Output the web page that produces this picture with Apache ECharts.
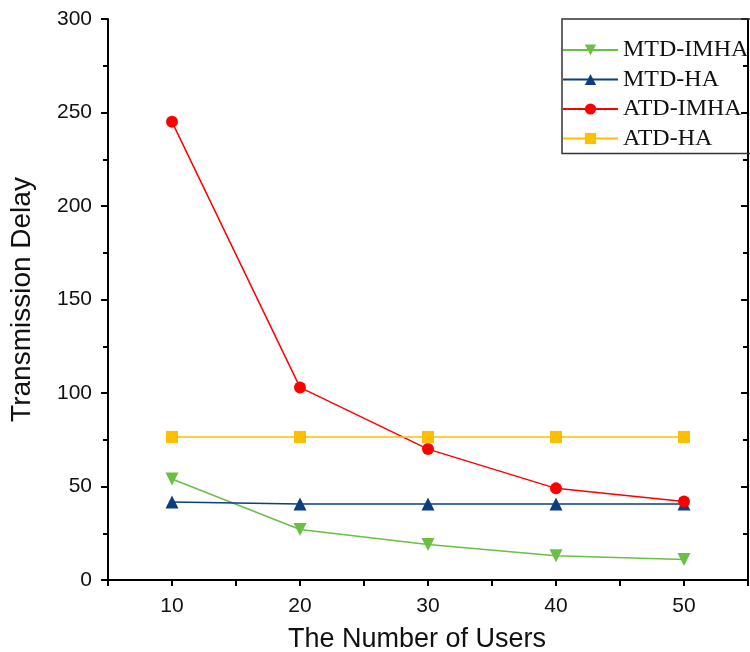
<!DOCTYPE html>
<html>
<head>
<meta charset="utf-8">
<script src="https://cdn.jsdelivr.net/npm/echarts@6/dist/echarts.min.js"></script>
<style>
  html, body { margin: 0; padding: 0; background: #fff; }
  #chart { width: 750px; height: 652px; }
</style>
</head>
<body>
<div id="chart"></div>
<script>
    var users = [10, 20, 30, 40, 50];
    var mtdImha = [54, 27, 19, 13, 11];
    var mtdHa = [41.7, 40.6, 40.6, 40.6, 40.6];
    var atdImha = [245, 103, 70, 49, 42];
    var atdHa = [76.5, 76.5, 76.5, 76.5, 76.5];

    var pairs = function (ys) {
        var res = [];
        for (var i = 0; i < users.length; i++) {
            res.push([users[i], ys[i]]);
        }
        return res;
    };

    var makeSeries = function (name, ys, color, symbol, size, rotate) {
        return {
            name: name,
            type: 'line',
            data: pairs(ys),
            symbol: symbol,
            symbolSize: size,
            symbolRotate: rotate || 0,
            lineStyle: { color: color, width: 1.5 },
            itemStyle: { color: color },
            animation: false
        };
    };

    var axisLine = { show: true, lineStyle: { color: '#000', width: 2 } };
    var tickLabel = { fontFamily: 'Liberation Sans', fontSize: 21, color: '#111' };

    var option = {
        backgroundColor: '#fff',
        grid: { left: 108, right: 2, top: 19, bottom: 72, outerBoundsMode: 'none', containLabel: false },
        legend: {
            left: 562,
            top: 19,
            orient: 'vertical',
            itemWidth: 55,
            itemHeight: 14,
            itemGap: 5.5,
            padding: [19, 20, 3, 0],
            borderColor: '#333',
            borderWidth: 1.5,
            textStyle: { fontFamily: 'Liberation Serif', fontSize: 24, color: '#111' },
            data: ['MTD-IMHA', 'MTD-HA', 'ATD-IMHA', 'ATD-HA']
        },
        xAxis: [{
            type: 'value',
            min: 5,
            max: 55,
            interval: 5,
            name: 'The Number of Users',
            nameLocation: 'middle',
            nameGap: 46,
            nameTextStyle: { fontFamily: 'Liberation Sans', fontSize: 27, color: '#111', padding: [0, 22, 0, 0] },
            axisLine: axisLine,
            axisTick: { show: true, length: 6, lineStyle: { color: '#000', width: 2 } },
            axisLabel: Object.assign({
                margin: 16,
                formatter: function (v) { return v % 10 === 0 && v > 5 && v < 55 ? String(v) : ''; }
            }, tickLabel),
            splitLine: { show: false }
        }, {
            type: 'value',
            position: 'top',
            min: 5,
            max: 55,
            interval: 5,
            axisLine: axisLine,
            axisTick: { show: true, inside: true, length: 6, lineStyle: { color: '#000', width: 2 } },
            axisLabel: { show: false },
            splitLine: { show: false }
        }],
        yAxis: [{
            type: 'value',
            min: 0,
            max: 300,
            interval: 50,
            name: 'Transmission Delay',
            nameLocation: 'middle',
            nameGap: 72,
            nameTextStyle: { fontFamily: 'Liberation Sans', fontSize: 28, color: '#111' },
            axisLine: axisLine,
            axisTick: { show: true, length: 7, lineStyle: { color: '#000', width: 2 } },
            minorTick: { show: true, splitNumber: 2, length: 5, lineStyle: { color: '#000', width: 2 } },
            axisLabel: Object.assign({ margin: 16 }, tickLabel),
            splitLine: { show: false }
        }, {
            type: 'value',
            position: 'right',
            min: 0,
            max: 300,
            interval: 50,
            axisLine: axisLine,
            axisTick: { show: true, inside: true, length: 7, lineStyle: { color: '#000', width: 2 } },
            minorTick: { show: true, splitNumber: 2, length: 5, lineStyle: { color: '#000', width: 2 } },
            axisLabel: { show: false },
            splitLine: { show: false }
        }],
        series: [
            makeSeries('MTD-IMHA', mtdImha, '#6abf45', 'triangle', 13, 180),
            makeSeries('MTD-HA', mtdHa, '#0b3f80', 'triangle', 13),
            makeSeries('ATD-IMHA', atdImha, '#ff0000', 'circle', 12),
            makeSeries('ATD-HA', atdHa, '#ffbf00', 'rect', 12)
        ]
    };

    var chart = echarts.init(document.getElementById('chart'));
    chart.setOption(option);
</script>
</body>
</html>
